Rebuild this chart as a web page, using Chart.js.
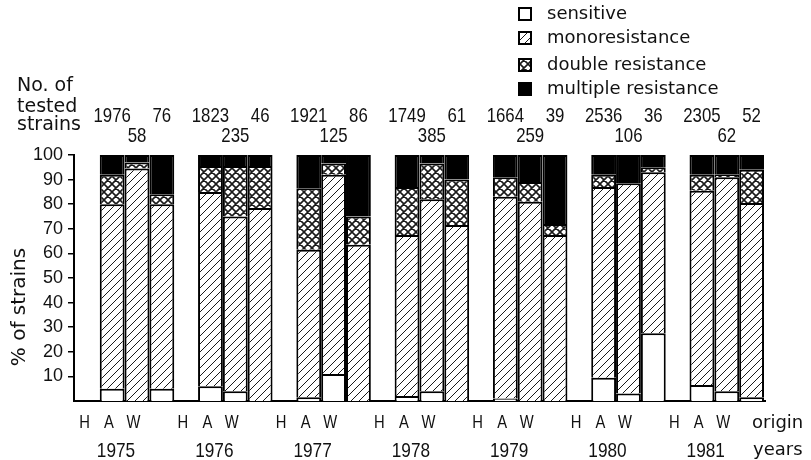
<!DOCTYPE html>
<html>
<head>
<meta charset="utf-8">
<script src="https://cdn.jsdelivr.net/npm/chart.js@4.4.1/dist/chart.umd.min.js"></script>
<style>
  html, body { margin: 0; padding: 0; background: #fff; }
  #wrap { width: 811px; height: 460px; }
</style>
</head>
<body>
<div id="wrap"><canvas id="chart" width="811" height="460"></canvas></div>
<script>
// Origin years and the three origins of the strains
const years = ['1975', '1976', '1977', '1978', '1979', '1980', '1981'];
const origins = ['H', 'A', 'W'];
const segmentNames = ['sensitive', 'monoresistance', 'double resistance', 'multiple resistance'];

// Number of tested strains per origin and year
const testedH = [1976, 1823, 1921, 1749, 1664, 2536, 2305];
const testedA = [58, 235, 125, 385, 259, 106, 62];
const testedW = [76, 46, 86, 61, 39, 36, 52];

// Percentage of strains per resistance class, origin H
const sensitiveH = [5, 6, 1.5, 2, 1, 9.5, 6.5];
const monoH      = [75, 79, 60, 65.5, 82, 77.5, 79];
const doubleH    = [12, 10.5, 25, 19.5, 8, 5, 6.5];
const multipleH  = [8, 4.5, 13.5, 13, 9, 8, 8];

// origin A
const sensitiveA = [0, 4, 11, 4, 0, 3, 4];
const monoA      = [94.5, 71, 81, 78, 81, 85.5, 87];
const doubleA    = [2.5, 20.5, 4.5, 14.5, 8, 0, 1];
const multipleA  = [3, 4.5, 3.5, 3.5, 11, 11.5, 8];

// origin W
const sensitiveW = [5, 0, 0, 0, 0, 27.5, 1.5];
const monoW      = [75, 78.5, 63.5, 71.5, 67.5, 65.5, 79];
const doubleW    = [4, 17, 11.5, 18.5, 4.5, 2, 13.5];
const multipleW  = [16, 4.5, 25, 10, 28, 5, 6];

const yTicks = [10, 20, 30, 40, 50, 60, 70, 80, 90, 100];

const SANS = '"Liberation Sans", Arial, sans-serif';
const ROUND = '"DejaVu Sans", "Noto Sans", sans-serif';

// Hatch fills: single diagonal for monoresistance, crossed for double resistance
function makeHatch(cross) {
  const s = 8;
  const c = document.createElement('canvas');
  c.width = s; c.height = s;
  const g = c.getContext('2d');
  g.fillStyle = '#fff';
  g.fillRect(0, 0, s, s);
  g.strokeStyle = '#1a1a1a';
  g.lineWidth = cross ? 1.6 : 1;
  g.beginPath();
  g.moveTo(-1, s + 1); g.lineTo(s + 1, -1);
  g.moveTo(-1, 1); g.lineTo(1, -1);
  g.moveTo(s - 1, s + 1); g.lineTo(s + 1, s - 1);
  if (cross) {
    g.moveTo(-1, -1); g.lineTo(s + 1, s + 1);
    g.moveTo(s - 1, -1); g.lineTo(s + 1, 1);
    g.moveTo(-1, s - 1); g.lineTo(1, s + 1);
  }
  g.stroke();
  return g.createPattern(c, 'repeat');
}

const fills = ['#ffffff', makeHatch(false), makeHatch(true), '#000000'];

const byOrigin = {
  H: [sensitiveH, monoH, doubleH, multipleH],
  A: [sensitiveA, monoA, doubleA, multipleA],
  W: [sensitiveW, monoW, doubleW, multipleW]
};

const datasets = [];
origins.forEach((o) => {
  byOrigin[o].forEach((vals, k) => {
    datasets.push({
      label: segmentNames[k],
      stack: o,
      data: vals.map((v, i) => ({ x: i, y: v })),
      backgroundColor: fills[k],
      borderColor: '#000',
      borderWidth: 2,
      categoryPercentage: 0.758,
      barPercentage: 1.0
    });
  });
});

// condensed text: the face is squeezed horizontally around its anchor
function narrowText(ctx, text, x, y, squeeze) {
  ctx.save();
  ctx.translate(x, y);
  ctx.scale(squeeze, 1);
  ctx.fillText(text, 0, 0);
  ctx.restore();
}

// Texts around the plot: strain counts, origin letters, years, legend, axis title
const annotations = {
  id: 'annotations',
  afterDraw(chart) {
    const { ctx, chartArea: area, scales: { x } } = chart;
    const barX = (originIdx, i) => chart.getDatasetMeta(originIdx * 4).data[i].x;
    ctx.save();
    ctx.fillStyle = '#111';
    ctx.textBaseline = 'alphabetic';

    // No. of tested strains
    ctx.textAlign = 'left';
    ctx.font = '19px ' + ROUND;
    ctx.fillText('No. of', 17, 91);
    ctx.fillText('tested', 17, 112);
    ctx.fillText('strains', 17, 130);

    years.forEach((yr, i) => {
      const cx = x.getPixelForValue(i);
      ctx.textAlign = 'center';
      ctx.font = '21px ' + SANS;
      narrowText(ctx, String(testedH[i]), barX(0, i), 122, 0.8);
      narrowText(ctx, String(testedW[i]), barX(2, i), 122, 0.8);
      narrowText(ctx, String(testedA[i]), barX(1, i), 142, 0.8);

      ctx.font = '18px ' + SANS;
      origins.forEach((o, k) => narrowText(ctx, o, cx - 28 + (k - 1) * 24.5, 428, 0.82));
      ctx.font = '21px ' + SANS;
      narrowText(ctx, yr, cx - 21, 457, 0.82);
    });

    ctx.textAlign = 'left';
    ctx.font = '18px ' + ROUND;
    ctx.fillText('origin', area.right - 13, 428);
    ctx.fillText('years', area.right - 12, 455);

    // y axis title
    ctx.save();
    ctx.translate(20, area.bottom - 94);
    ctx.rotate(-Math.PI / 2);
    ctx.textAlign = 'center';
    ctx.textBaseline = 'middle';
    ctx.font = '20px ' + ROUND;
    ctx.fillText('% of strains', 0, 0);
    ctx.restore();

    // legend
    const rows = [14, 38, 65, 89];
    ctx.font = '18px ' + ROUND;
    ctx.textBaseline = 'middle';
    segmentNames.forEach((name, k) => {
      const yy = rows[k];
      ctx.fillStyle = fills[k];
      ctx.fillRect(519, yy - 6, 12, 12);
      ctx.lineWidth = 2;
      ctx.strokeStyle = '#000';
      ctx.strokeRect(519, yy - 6, 12, 12);
      ctx.fillStyle = '#111';
      ctx.fillText(name, 547, yy);
    });
    ctx.restore();
  }
};

new Chart(document.getElementById('chart'), {
  type: 'bar',
  data: { datasets },
  options: {
    responsive: false,
    animation: false,
    devicePixelRatio: 1,
    layout: { padding: { top: 155, right: 46, bottom: 59, left: 0 } },
    plugins: { legend: { display: false }, tooltip: { enabled: false } },
    scales: {
      x: {
        type: 'linear',
        stacked: true,
        offset: false,
        min: -0.641,
        max: 6.389,
        ticks: { display: false, stepSize: 1, includeBounds: false },
        grid: { display: false, drawTicks: false },
        border: { display: true, color: '#000', width: 2 },
        afterFit: (s) => { s.height = 0; }
      },
      y: {
        stacked: true,
        min: 0,
        max: 100,
        afterFit: (s) => { s.width = 74; },
        afterBuildTicks: (s) => { s.ticks = yTicks.map((v) => ({ value: v })); },
        ticks: {
          padding: 5,
          color: '#111',
          font: { family: SANS, size: 18 },
          callback: (v) => String(v)
        },
        grid: { display: true, drawOnChartArea: false, drawTicks: true, tickLength: 6, color: '#000', lineWidth: 1.5 },
        border: { display: true, color: '#000', width: 2 }
      }
    }
  },
  plugins: [annotations]
});
</script>
</body>
</html>
